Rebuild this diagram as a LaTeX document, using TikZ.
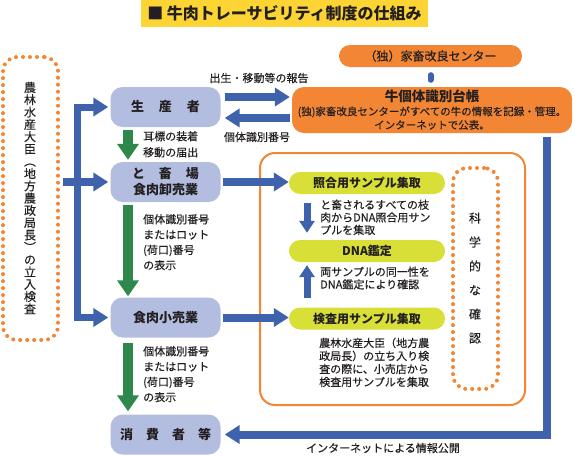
\documentclass[tikz,border=0pt]{standalone}
\usepackage{fontspec}
\setmainfont{Noto Sans CJK JP}[UprightFeatures={FakeBold=0.3}]
\usetikzlibrary{arrows.meta,calc}
\definecolor{lav}{HTML}{B2BDE0}
\definecolor{bluA}{HTML}{3F62AC}
\definecolor{grn}{HTML}{2E884C}
\definecolor{org}{HTML}{F28634}
\definecolor{ttl}{HTML}{FCD535}
\definecolor{ylg}{HTML}{D8E038}
\definecolor{txt}{HTML}{231F20}
\begin{document}
\begin{tikzpicture}[x=1pt,y=-1pt,
  every node/.style={text=txt, inner sep=0pt},
  actor/.style={fill=lav, rounded corners=12pt, minimum width=110pt, minimum height=40pt, font=\fontsize{13}{16}\selectfont\bfseries, align=center},
  pill/.style={fill=ylg, rounded corners=11pt, minimum width=156pt, minimum height=22pt, font=\fontsize{12}{14}\selectfont\bfseries},
  orgbox/.style={fill=org, rounded corners=12pt},
  lbl/.style={font=\fontsize{11}{15.3}\selectfont, align=left, anchor=north west},
  inlbl/.style={font=\fontsize{11}{12.6}\selectfont, align=left, anchor=north west},
  barrow/.style={draw=bluA, line width=8pt, -{Triangle[width=18pt,length=15pt]}},
  garrow/.style={draw=grn, line width=10pt, -{Triangle[width=21pt,length=16pt]}},
  sarrow/.style={draw=bluA, line width=7pt, -{Triangle[width=15pt,length=12pt]}},
  dotbox/.style={draw=org, line width=4pt, dash pattern=on 0pt off 7pt, line cap=round, rounded corners=14pt},
]
\useasboundingbox (0,0) rectangle (575,455);

% title
\node[fill=ttl, minimum width=287pt, minimum height=27pt, font=\fontsize{16}{18}\selectfont\bfseries] (title) at (284.5,13.5) {■ 牛肉トレーサビリティ制度の仕組み};

% left dotted box
\node[dotbox, minimum width=55pt, minimum height=283pt] (lbox) at (30.5,198.5) {};
\node[font=\fontsize{12}{12.3}\selectfont, align=center] (lvt) at (30,198) {農\\林\\水\\産\\大\\臣\\︵\\地\\方\\農\\政\\局\\長\\︶\\の\\立\\入\\検\\査};

% actors
\node[actor] (prod) at (165.5,107) {生\hspace{15pt}産\hspace{15pt}者};
\node[actor] (whole) at (165.5,182) {と\hspace{14pt}畜\hspace{14pt}場\\食肉卸売業};
\node[actor] (retail) at (165.5,317.5) {食肉小売業};
\node[actor] (cons) at (165.5,434.5) {消\hspace{13pt}費\hspace{13pt}者\hspace{13pt}等};

% orange boxes
\node[orgbox, rounded corners=11pt, minimum width=183pt, minimum height=22pt, font=\fontsize{12}{14}\selectfont] (nlbc) at (430.5,56) {（独）家畜改良センター};
\node[orgbox, minimum width=280pt, minimum height=46pt, align=center, font=\fontsize{10.5}{13.5}\selectfont] (daicho) at (432,110) {{\fontsize{13.5}{15}\selectfont\bfseries 牛個体識別台帳}\\(独)家畜改良センターがすべての牛の情報を記録・管理。\\インターネットで公表。};
\draw[bluA, line width=6pt, line cap=round, shorten <=8pt, shorten >=7pt] (nlbc.south) -- (nlbc.south |- daicho.north);

% scientific check region
\node[draw=org, line width=2pt, fill=white, rounded corners=15pt, minimum width=265pt, minimum height=252pt] (sci) at (392.5,279) {};
\node[pill] (p1) at (367,183) {照合用サンプル集取};
\node[pill] (p2) at (367,251) {DNA鑑定};
\node[pill] (p3) at (367,318.5) {検査用サンプル集取};
\node[dotbox, minimum width=45pt, minimum height=221pt] (sci2) at (475.5,278.5) {};
\node[font=\fontsize{12}{24}\selectfont, align=center] (scit) at (475,278) {科\\学\\的\\な\\確\\認};

\node[inlbl] (t1) at (320,199.5) {と畜されるすべての枝\\肉からDNA照合用サン\\プルを集取};
\node[inlbl] (t2) at (320,266.5) {両サンプルの同一性を\\DNA鑑定により確認};
\node[inlbl, font=\fontsize{11}{13}\selectfont] (t3) at (319,337.5) {農林水産大臣（地方農\\政局長）の立ち入り検\\査の際に、小売店から\\検査用サンプルを集取};

\coordinate (ax) at (307,0);
\draw[sarrow, shorten <=9pt, shorten >=7pt] (p1.south -| ax) -- (p2.north -| ax);
\draw[sarrow, shorten <=9pt, shorten >=3pt] (p3.north -| ax) -- (p2.south -| ax);

% producer <-> ledger
\draw[barrow] ($(prod.east)+(4,-10)$) -- ($(daicho.west)+(-2,-13)$);
\draw[barrow] ($(daicho.west)+(-2,8)$) -- ($(prod.east)+(4,11)$);
\node[font=\fontsize{11}{13}\selectfont] (l1) at (259,78) {出生・移動等の報告};
\node[font=\fontsize{11}{13}\selectfont] (l2) at (257,137) {個体識別番号};

% green flow
\coordinate (gx) at (128,0);
\draw[garrow, shorten <=3pt, shorten >=2pt] (prod.south -| gx) -- (whole.north -| gx);
\draw[garrow, shorten <=3pt, shorten >=1pt] (whole.south -| gx) -- (retail.north -| gx);
\draw[garrow, shorten <=5pt, shorten >=3pt] (retail.south -| gx) -- (cons.north -| gx);
\node[lbl, font=\fontsize{11}{16}\selectfont] (g1) at (143,131) {耳標の装着\\移動の届出};
\node[lbl] (g2) at (143,214) {個体識別番号\\またはロット\\(荷口)番号\\の表示};
\node[lbl] (g3) at (143,346) {個体識別番号\\またはロット\\(荷口)番号\\の表示};

% inspection arrows (left)
\coordinate (lt) at (77,107);
\coordinate (lb) at (77,317.5);
\draw[draw=bluA, line width=7pt, line join=miter, {Triangle[width=18pt,length=15pt]}-{Triangle[width=18pt,length=15pt]}] ($(prod.west)+(-2,0)$) -- (lt) -- (lb) -- ($(retail.west)+(-2,0)$);
\draw[barrow] ($(lbox.east |- whole.west)+(3,0)$) -- ($(whole.west)+(-2,0)$);

% to samples
\draw[barrow] ($(whole.east)+(2,0)$) -- (whole.east -| p1.west);
\draw[barrow] ($(retail.east)+(2,0)$) -- (retail.east -| p3.west);

% internet publication
\coordinate (rc) at (547,434.5);
\draw[barrow, line join=miter] ($(daicho.south -| rc)+(0,4)$) -- (rc) -- ($(cons.east)+(4,0)$);
\node[font=\fontsize{11}{13}\selectfont] (l3) at (383,448) {インターネットによる情報公開};
\end{tikzpicture}
\end{document}
